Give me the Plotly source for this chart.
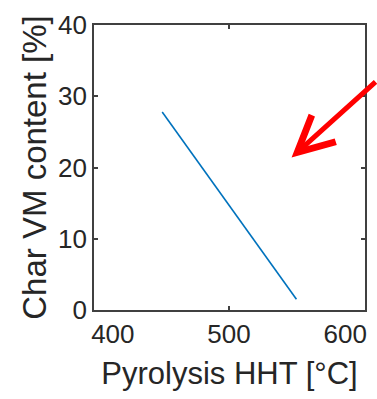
import plotly.graph_objects as go

# Data
hht = [442.5, 558.0]          # Pyrolysis HHT [°C]
vm = [27.8, 1.5]              # Char VM content [%]
x_ticks = [400, 500, 600]
y_ticks = [0, 10, 20, 30, 40]
arrow_tip = (553.8, 21.4)

fig = go.Figure()
fig.add_trace(go.Scatter(x=hht, y=vm, mode="lines",
                         line=dict(color="#0072BD", width=1.6),
                         showlegend=False, hoverinfo="skip"))

fig.add_annotation(x=arrow_tip[0], y=arrow_tip[1], xref="x", yref="y",
                   text="", showarrow=True, ax=92, ay=-77,
                   arrowcolor="#FF0000", arrowwidth=5, arrowhead=5,
                   arrowsize=1.4, standoff=0)

font_fam = "Liberation Sans, Arial, sans-serif"
fig.update_layout(
    width=377, height=399,
    margin=dict(l=94, r=10, t=22, b=89),
    paper_bgcolor="white", plot_bgcolor="white",
    font=dict(family=font_fam, color="#262626"),
)
fig.update_xaxes(range=[383.8, 617.0], tickvals=x_ticks,
                 ticktext=[str(v) for v in x_ticks],
                 ticks="", showgrid=False, zeroline=False,
                 showline=True, linecolor="#404040", linewidth=1.6, mirror="ticks",
                 minor=dict(tickvals=[500], ticks="inside", ticklen=4, tickcolor="#404040", tickwidth=1.5),
                 tickfont=dict(size=26, color="#262626"),
                 title=dict(text="Pyrolysis HHT [°C]", font=dict(size=31, color="#262626"), standoff=14))
fig.update_yaxes(range=[0, 40], tickvals=y_ticks,
                 ticks="inside", ticklen=4, tickcolor="#404040", tickwidth=1.5,
                 showgrid=False, zeroline=False,
                 showline=True, linecolor="#404040", linewidth=1.6, mirror="ticks",
                 tickfont=dict(size=26, color="#262626"),
                 title=dict(text="Char VM content [%]", font=dict(size=33, color="#262626"), standoff=2))

fig.write_html("out.html")
